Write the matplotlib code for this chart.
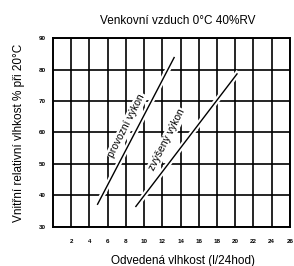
import matplotlib.pyplot as plt
import matplotlib.patheffects as pe

plt.rcParams['font.family'] = ['Liberation Sans', 'DejaVu Sans']

# axis ticks
x_ticks = [2, 4, 6, 8, 10, 12, 14, 16, 18, 20, 22, 24, 26]
y_ticks = [30, 40, 50, 60, 70, 80, 90]

# lines (x = l/24h, y = % RH)
provozni_x = [4.9, 13.3]
provozni_y = [37.2, 83.8]
zvyseny_x = [9.1, 20.2]
zvyseny_y = [36.5, 78.6]

fig = plt.figure(figsize=(2.94, 2.66), dpi=100)
ax = fig.add_axes([0.180, 0.147, 0.806, 0.710])

ax.set_xlim(0, 26)
ax.set_ylim(30, 90)
ax.set_xticks(x_ticks)
ax.set_yticks(y_ticks)
ax.set_xticklabels([str(v) for v in x_ticks], fontsize=4.5, fontweight='bold')
ax.set_yticklabels([str(v) for v in y_ticks], fontsize=4.5, fontweight='bold')
ax.tick_params(length=0)
ax.tick_params(axis='x', pad=9)
ax.tick_params(axis='y', pad=5)
ax.grid(True, color='black', linewidth=1.2)
ax.set_axisbelow(True)
for s in ax.spines.values():
    s.set_linewidth(1.4)

halo = [pe.Stroke(linewidth=4, foreground='white'), pe.Normal()]
ax.plot(provozni_x, provozni_y, color='black', linewidth=1.0, path_effects=halo, zorder=3)
ax.plot(zvyseny_x, zvyseny_y, color='black', linewidth=1.0, path_effects=halo, zorder=3)

box = dict(facecolor='white', edgecolor='none', pad=0.8)
ax.text(8.1, 62.2, 'provozní výkon', rotation=63, fontsize=7.5,
        ha='center', va='center', bbox=box, zorder=4)
ax.text(12.5, 57.6, 'zvýšený výkon', rotation=63, fontsize=7.5,
        ha='center', va='center', bbox=box, zorder=4)

fig.text(0.605, 0.922, 'Venkovní vzduch 0°C 40%RV', fontsize=8.5,
         ha='center', va='center')
ax.set_xlabel('Odvedená vlhkost (l/24hod)', fontsize=8.5)
ax.xaxis.set_label_coords(0.55, -0.15)
ax.set_ylabel('Vnitřní relativní vlhkost % při 20°C', fontsize=8.5, labelpad=10)

fig.savefig('out.png', dpi=100)
